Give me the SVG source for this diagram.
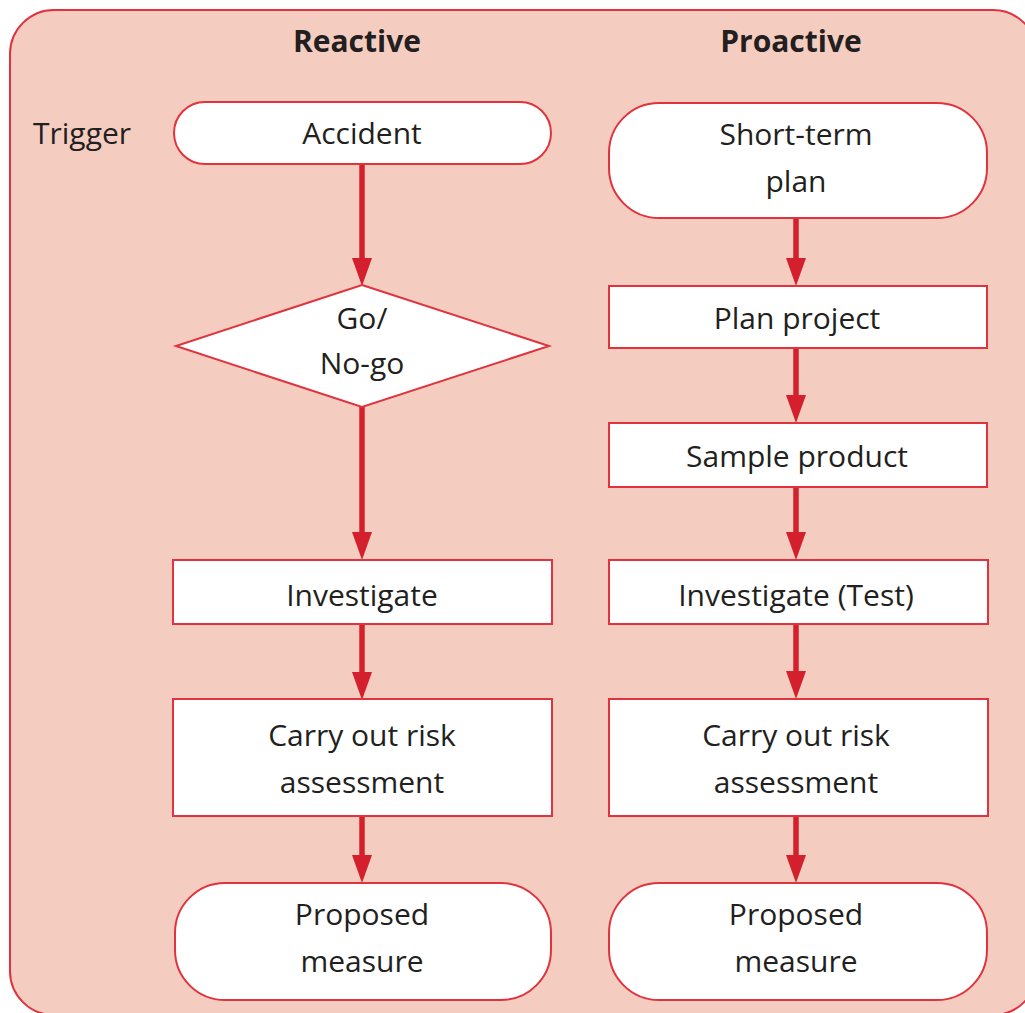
<svg xmlns="http://www.w3.org/2000/svg" width="1025" height="1013" viewBox="0 0 1025 1013">
<style>
.bg{fill:#f5cdc0;stroke:#e0333d;stroke-width:2}
.box{fill:#ffffff;stroke:#e0333d;stroke-width:2}
.t{font-family:"Open Sans","Noto Sans",sans-serif;font-size:30px;fill:#231f20;text-anchor:middle}
.h{font-family:"Open Sans","Noto Sans",sans-serif;font-size:30px;font-weight:bold;fill:#231f20;text-anchor:middle}
.c{stroke:#d4202c;stroke-width:5.5;fill:none}
.ah{fill:#d4202c}
</style>
<rect class="bg" x="10" y="10" width="1027" height="1005" rx="44" ry="44"/>
<text class="h" x="357" y="52">Reactive</text>
<text class="h" x="791" y="52">Proactive</text>
<text class="t" x="33" y="144" style="text-anchor:start">Trigger</text>

<g id="connectors">
<line class="c" x1="362" y1="164" x2="362" y2="262"/>
<polygon class="ah" points="352,258 372,258 362,286"/>
<line class="c" x1="362" y1="407" x2="362" y2="536"/>
<polygon class="ah" points="352,532 372,532 362,560"/>
<line class="c" x1="362" y1="624" x2="362" y2="676"/>
<polygon class="ah" points="352,672 372,672 362,700"/>
<line class="c" x1="362" y1="816" x2="362" y2="859"/>
<polygon class="ah" points="352,855 372,855 362,883"/>

<line class="c" x1="796" y1="218" x2="796" y2="262"/>
<polygon class="ah" points="786,258 806,258 796,286"/>
<line class="c" x1="796" y1="348" x2="796" y2="399"/>
<polygon class="ah" points="786,395 806,395 796,423"/>
<line class="c" x1="796" y1="487" x2="796" y2="536"/>
<polygon class="ah" points="786,532 806,532 796,560"/>
<line class="c" x1="796" y1="624" x2="796" y2="675"/>
<polygon class="ah" points="786,671 806,671 796,699"/>
<line class="c" x1="796" y1="816" x2="796" y2="859"/>
<polygon class="ah" points="786,855 806,855 796,883"/>
</g>

<g id="accident">
<rect class="box" x="174" y="102" width="377" height="62" rx="31" ry="31"/>
<text class="t" x="362" y="144">Accident</text>
</g>
<g id="gonogo">
<polygon class="box" points="362,285 549,346 362,407 176,346"/>
<text class="t" x="362" y="329">Go/</text>
<text class="t" x="362" y="374">No-go</text>
</g>
<g id="investigate">
<rect class="box" x="173" y="560" width="379" height="64"/>
<text class="t" x="362" y="606">Investigate</text>
</g>
<g id="risk-left">
<rect class="box" x="173" y="699" width="379" height="117"/>
<text class="t" x="362" y="746">Carry out risk</text>
<text class="t" x="362" y="793">assessment</text>
</g>
<g id="measure-left">
<rect class="box" x="175" y="883" width="376" height="117" rx="50" ry="50"/>
<text class="t" x="362" y="925">Proposed</text>
<text class="t" x="362" y="972">measure</text>
</g>

<g id="shortterm">
<rect class="box" x="609" y="103" width="378" height="115" rx="50" ry="50"/>
<text class="t" x="796" y="145">Short-term</text>
<text class="t" x="796" y="192">plan</text>
</g>
<g id="planproject">
<rect class="box" x="609" y="286" width="378" height="62"/>
<text class="t" x="797" y="329">Plan project</text>
</g>
<g id="sample">
<rect class="box" x="609" y="423" width="378" height="64"/>
<text class="t" x="797" y="467">Sample product</text>
</g>
<g id="investigate-test">
<rect class="box" x="609" y="560" width="379" height="64"/>
<text class="t" x="796" y="606">Investigate (Test)</text>
</g>
<g id="risk-right">
<rect class="box" x="609" y="699" width="379" height="117"/>
<text class="t" x="796" y="746">Carry out risk</text>
<text class="t" x="796" y="793">assessment</text>
</g>
<g id="measure-right">
<rect class="box" x="609" y="883" width="378" height="117" rx="50" ry="50"/>
<text class="t" x="796" y="925">Proposed</text>
<text class="t" x="796" y="972">measure</text>
</g>
</svg>
